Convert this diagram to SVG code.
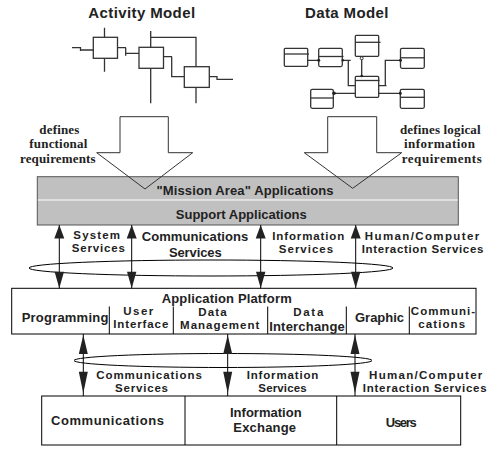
<svg xmlns="http://www.w3.org/2000/svg" width="493" height="450" viewBox="0 0 493 450">
<style>
.t{font-family:"Liberation Sans",Arial,sans-serif;font-weight:bold;font-size:13px;fill:#222;text-anchor:middle}
.c{font-size:11.5px}
.h{font-size:15px}
.s{font-family:"Liberation Serif","Times New Roman",serif;font-weight:bold;font-size:13px;fill:#222;text-anchor:middle}
.m{fill:none;stroke:#333;stroke-width:1.3}
.mb{fill:#fff;stroke:#333;stroke-width:1.3}
.ln{fill:none;stroke:#000;stroke-width:1}
.big{fill:none;stroke:#333;stroke-width:1}
.hd{fill:#222;stroke:none}
.dot{fill:#222}
</style>
<rect width="493" height="450" fill="#fff"/>

<g id="activity-model">
<text class="t h" x="141.7" y="18.3" textLength="106.7" lengthAdjust="spacing">Activity Model</text>
<rect class="mb" x="93.3" y="37.3" width="24.2" height="21"/>
<rect class="mb" x="139" y="47.3" width="24.5" height="21"/>
<rect class="mb" x="184.3" y="66.7" width="25" height="20.7"/>
<path class="m" d="M104.5,27.7V37.3M104.5,58.3V71.7M72,47.7H80.5V51M80.5,50H93.3M117.5,47.7H126M125.7,47.7V55.7M125.7,53.3H139M150.7,31V47.3M150.7,37.3H196V66.7M150.7,68.3V103.3M163.5,56.7H172M171.7,56.7V76.7H184.3M196,87.3V103.3M209.3,76.7H217V79.3H233"/>
</g>

<g id="data-model">
<text class="t h" x="346.7" y="18.3" textLength="83.3" lengthAdjust="spacing">Data Model</text>
<rect class="mb" x="284.3" y="48.3" width="23.4" height="18" rx="1"/>
<path class="m" d="M284.3,54H309"/>
<rect class="mb" x="318.7" y="48.3" width="23.6" height="18.3" rx="1.5"/>
<path class="m" d="M318.7,56.5H343.5"/>
<rect class="mb" x="355.3" y="35.3" width="23.4" height="21" rx="1"/>
<path class="m" d="M355.3,42.3H380.5"/>
<rect class="mb" x="355.3" y="76.3" width="23.4" height="21" rx="1"/>
<path class="m" d="M355.3,80.5H379.5"/>
<rect class="mb" x="400.5" y="48.3" width="23.8" height="20" rx="1.5"/>
<path class="m" d="M400.5,57.8H425"/>
<rect class="mb" x="310.7" y="89.3" width="22.6" height="19" rx="1.5"/>
<path class="m" d="M310.7,98H334"/>
<rect class="mb" x="400.3" y="89.3" width="24" height="19" rx="1.5"/>
<path class="m" d="M400.3,97.3H425"/>
<path class="m" d="M307.7,60.3H318.7M342.3,60.3H350.7M348.3,60.3V85.7H355.3M361.7,56.3V76.3M378.7,85.7H386.5M385.3,85.7V60.3H400.5M333.3,93.3H355.3M378.7,93.3H400.3"/>
<circle class="dot" cx="318.7" cy="60.3" r="1.5"/>
<circle class="dot" cx="342.8" cy="60.3" r="1.3"/>
<circle class="dot" cx="361.7" cy="76" r="1.3"/>
<circle cx="361.7" cy="58.3" r="1.5" fill="#fff" stroke="#333" stroke-width="1"/>
<circle class="dot" cx="400.5" cy="60.3" r="1.5"/>
<circle class="dot" cx="334" cy="93.3" r="1.8"/>
<circle class="dot" cx="400.3" cy="93.3" r="1.5"/>
</g>

<g id="application-layer">
<rect x="37.3" y="176.7" width="421" height="48.3" fill="#c0c0c0" stroke="#555" stroke-width="1"/>
<path d="M37.8,200H457.8" stroke="#fff" stroke-width="1.2"/>
<text class="t" x="245" y="194.5" textLength="177" lengthAdjust="spacing">"Mission Area" Applications</text>
<text class="t" x="241.3" y="219.3" textLength="131" lengthAdjust="spacing">Support Applications</text>
</g>

<g id="requirement-arrows">
<path class="big" d="M120,116.7H168.3V152.7H192.7L145,189L96.7,152.7H120Z"/>
<path class="big" d="M327.7,116.7H376.7V152.7H401.7L352.7,188.3L304.3,152.7H327.7Z"/>
<text class="s" x="59.3" y="134.3" textLength="40" lengthAdjust="spacing">defines</text>
<text class="s" x="58.3" y="148.3" textLength="58" lengthAdjust="spacing">functional</text>
<text class="s" x="57.8" y="163.3" textLength="75.7" lengthAdjust="spacing">requirements</text>
<text class="s" x="440.3" y="134.3" textLength="80.7" lengthAdjust="spacing">defines logical</text>
<text class="s" x="439.5" y="148.3" textLength="71" lengthAdjust="spacing">information</text>
<text class="s" x="441.7" y="163.3" textLength="80" lengthAdjust="spacing">requirements</text>
</g>

<g id="application-platform">
<rect x="11.7" y="288.3" width="464.3" height="45.7" fill="#fff" stroke="#000" stroke-width="1"/>
<path class="ln" d="M109.3,306.5V334M173.3,306.5V334M267.7,306.5V334M346.3,306.5V334M409.3,306.5V334"/>
<text class="t" x="226.7" y="302.6" textLength="130" lengthAdjust="spacing">Application Platform</text>
<text class="t" x="65" y="321.7" textLength="86.7" lengthAdjust="spacing">Programming</text>
<text class="t c" x="138.3" y="314.5" textLength="30" lengthAdjust="spacing">User</text>
<text class="t c" x="140.8" y="327.5" textLength="55" lengthAdjust="spacing">Interface</text>
<text class="t c" x="212.5" y="315.6" textLength="28.3" lengthAdjust="spacing">Data</text>
<text class="t c" x="219.7" y="328.6" textLength="79.3" lengthAdjust="spacing">Management</text>
<text class="t c" x="308.3" y="316" textLength="30" lengthAdjust="spacing">Data</text>
<text class="t" x="307" y="331" textLength="75.7" lengthAdjust="spacing">Interchange</text>
<text class="t" x="379.5" y="321.7" textLength="49" lengthAdjust="spacing">Graphic</text>
<text class="t c" x="443" y="314.5" textLength="64.3" lengthAdjust="spacing">Communi-</text>
<text class="t c" x="441.7" y="327.5" textLength="46.7" lengthAdjust="spacing">cations</text>
</g>

<g id="external-environment">
<rect x="41.7" y="396" width="419" height="49" fill="#fff" stroke="#000" stroke-width="1"/>
<path class="ln" d="M185,396V445M336.7,396V445"/>
<text class="t" x="107.5" y="425" textLength="113" lengthAdjust="spacing">Communications</text>
<text class="t" x="265.8" y="417" textLength="71.7" lengthAdjust="spacing">Information</text>
<text class="t" x="264.7" y="432" textLength="62.7" lengthAdjust="spacing">Exchange</text>
<text class="t" x="401.3" y="426.7" textLength="31" lengthAdjust="spacing">Users</text>
</g>

<g id="connectors">
<ellipse cx="211" cy="268" rx="182" ry="8" fill="none" stroke="#000" stroke-width="1"/>
<ellipse cx="223" cy="360.5" rx="149" ry="7" fill="none" stroke="#000" stroke-width="1"/>
<path class="ln" d="M59.3,225V288.3M131.7,225V288.3M260.7,225V288.3M355.7,225V288.3M83.3,334V396M227.7,334V396M355,334V396"/>
<g class="hd">
<path d="M59.3,225L64.3,238.5H54.3Z M59.3,288.3L64,271.7H54.6Z"/>
<path d="M131.7,225L136.7,238.5H126.7Z M131.7,288.3L136.4,271.7H127Z"/>
<path d="M260.7,225L265.7,238.5H255.7Z M260.7,288.3L265.4,271.7H256Z"/>
<path d="M355.7,225L360.7,238.5H350.7Z M355.7,288.3L360.4,271.7H351Z"/>
<path d="M83.3,335L87.8,354H78.8Z M83.3,393.3L87.8,371.7H78.8Z"/>
<path d="M227.7,335L232.2,354H223.2Z M227.7,393.3L232.2,371.7H223.2Z"/>
<path d="M355,335L359.5,354H350.5Z M355,393.3L359.5,371.7H350.5Z"/>
</g>
<text class="t c" x="96.7" y="239" textLength="46.7" lengthAdjust="spacing">System</text>
<text class="t c" x="98.3" y="252" textLength="53.3" lengthAdjust="spacing">Services</text>
<text class="t" x="195" y="241" textLength="106.7" lengthAdjust="spacing">Communications</text>
<text class="t" x="195.3" y="256.7" textLength="52.7" lengthAdjust="spacing">Services</text>
<text class="t c" x="308.3" y="239.5" textLength="72" lengthAdjust="spacing">Information</text>
<text class="t c" x="306" y="252.5" textLength="54.3" lengthAdjust="spacing">Services</text>
<text class="t c" x="422" y="239.5" textLength="114.3" lengthAdjust="spacing">Human/Computer</text>
<text class="t c" x="422.5" y="252.5" textLength="121.7" lengthAdjust="spacing">Interaction Services</text>
<text class="t c" x="149" y="378.5" textLength="105.7" lengthAdjust="spacing">Communications</text>
<text class="t c" x="141.5" y="391.5" textLength="53" lengthAdjust="spacing">Services</text>
<text class="t c" x="282.5" y="378.5" textLength="71.7" lengthAdjust="spacing">Information</text>
<text class="t c" x="282.5" y="391.5" textLength="48.3" lengthAdjust="spacing">Services</text>
<text class="t c" x="425.7" y="378.5" textLength="113.3" lengthAdjust="spacing">Human/Computer</text>
<text class="t c" x="424.7" y="391.5" textLength="124" lengthAdjust="spacing">Interaction Services</text>
</g>
</svg>
